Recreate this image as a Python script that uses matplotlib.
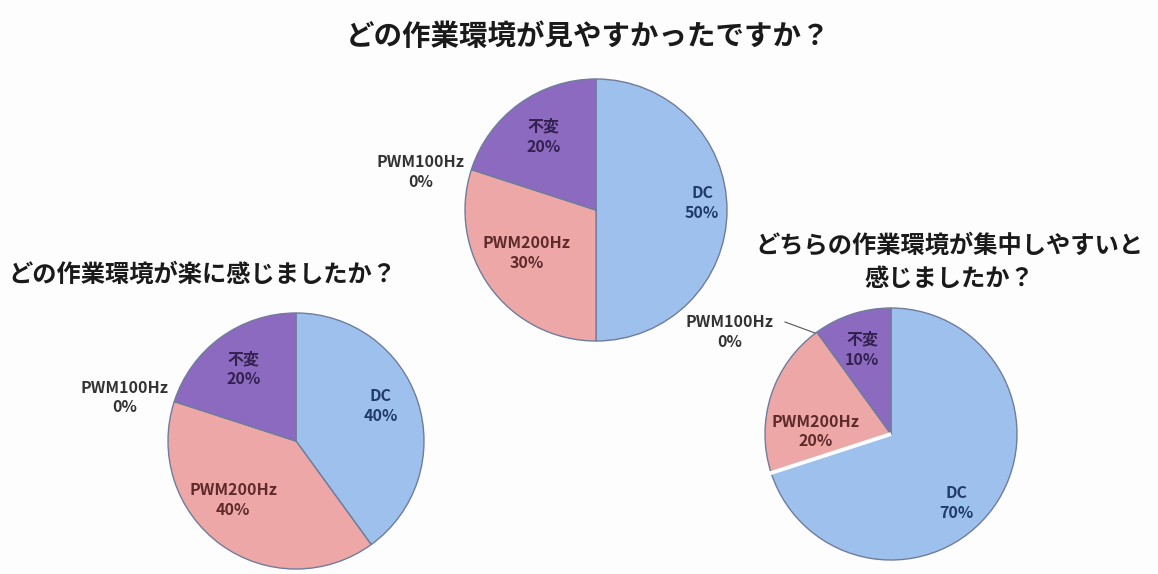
import matplotlib.pyplot as plt
import numpy as np

plt.rcParams['font.family'] = ['Noto Sans CJK JP', 'DejaVu Sans']

# survey answers (percent), same category order for every question
categories = ["DC", "PWM200Hz", "PWM100Hz", "不変"]
easy_to_see = [50, 30, 0, 20]
felt_easy = [40, 40, 0, 20]
easy_to_focus = [70, 20, 0, 10]

titles = [
    "どの作業環境が見やすかったですか？",
    "どの作業環境が楽に感じましたか？",
    "どちらの作業環境が集中しやすいと\n感じましたか？",
]

colors = ["#9ec0ec", "#eca7a6", "#9bbb59", "#8c6ac0"]
text_colors = ["#1f3a6b", "#5e2a2a", "#333333", "#33204f"]

W, H = 1158, 574
fig = plt.figure(figsize=(W / 100, H / 100), dpi=100, facecolor="#fdfdfd")
ax = fig.add_axes([0, 0, 1, 1])


def py(y):
    # pixel rows count from the top
    return H - y


# centre (px), radius (px), label offsets in radius units, title spot and size
charts = [
    dict(vals=easy_to_see, c=(596, 210), r=131,
         offs=[(0.81, 0.05), (-0.53, -0.33), (-1.34, 0.29), (-0.40, 0.56)],
         title=(588, 37, "center"), tsize=20.5, gap=False),
    dict(vals=felt_easy, c=(296, 441), r=128,
         offs=[(0.66, 0.27), (-0.49, -0.46), (-1.34, 0.34), (-0.41, 0.56)],
         title=(8, 275, "left"), tsize=17.5, gap=False),
    dict(vals=easy_to_focus, c=(891, 434), r=126,
         offs=[(0.52, -0.55), (-0.60, 0.02), (-1.28, 0.81), (-0.23, 0.67)],
         title=(949, 262, "center"), tsize=17.5, gap=True),
]

for ch, title in zip(charts, titles):
    cx, cy = ch["c"]
    r = ch["r"]
    wedges, _ = ax.pie(ch["vals"], colors=colors, startangle=90, counterclock=False,
                       center=(cx, py(cy)), radius=r,
                       wedgeprops=dict(edgecolor="#6f7d9c", linewidth=1.0))
    if ch["gap"]:
        # light seam on the lower edge of the DC slice
        a = np.deg2rad(wedges[0].theta1)
        ax.plot([cx, cx + r * 1.01 * np.cos(a)], [py(cy), py(cy) + r * 1.01 * np.sin(a)],
                color="white", linewidth=2.8, solid_capstyle="butt")
    for i, (dx, dy) in enumerate(ch["offs"]):
        lx, ly = cx + dx * r, py(cy) + dy * r
        ax.text(lx, ly, f"{categories[i]}\n{ch['vals'][i]}%", ha="center", va="center",
                fontsize=11.5, color=text_colors[i], linespacing=1.3, fontweight="bold")
    tx, ty, ha = ch["title"]
    ax.text(tx, py(ty), title, ha=ha, va="center", fontsize=ch["tsize"], fontweight="bold",
            color="#1a1a1a", linespacing=1.5)

# leader line for the empty slice of the last chart
ax.plot([785, 815], [py(322), py(333)], color="#555555", linewidth=0.8)

# pie() resets the limits, so fix the pixel frame afterwards
ax.set_xlim(0, W)
ax.set_ylim(0, H)
ax.set_aspect("equal")
ax.axis("off")

fig.savefig("out.png", dpi=100, facecolor=fig.get_facecolor())
